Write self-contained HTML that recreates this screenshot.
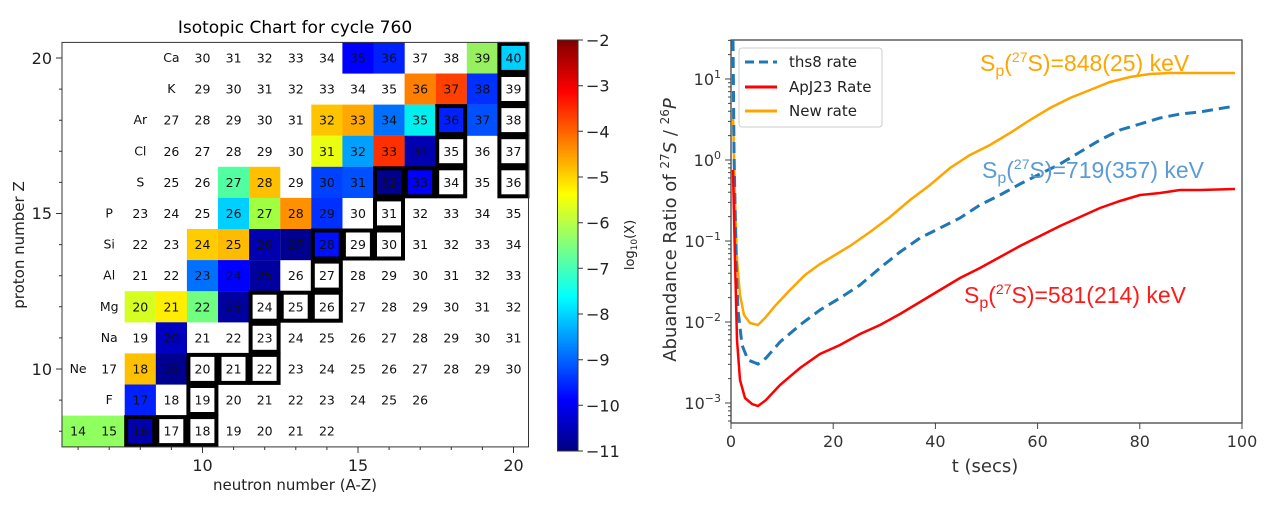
<!DOCTYPE html>
<html><head><meta charset="utf-8"><style>
html,body{margin:0;padding:0;background:#fff;}
svg{display:block;font-family:"DejaVu Sans","Liberation Sans",sans-serif;}
.c text{font-size:12.5px;text-anchor:middle;fill:#111;}
.ann{font-family:"Liberation Sans","Noto Sans CJK SC",sans-serif;font-size:23px;}
</style></head><body>
<svg width="1267" height="508" viewBox="0 0 1267 508" xmlns="http://www.w3.org/2000/svg">
<defs><linearGradient id="jet" x1="0" y1="0" x2="0" y2="1">
<stop offset="0" stop-color="#800000"/><stop offset="0.125" stop-color="#ff0000"/><stop offset="0.375" stop-color="#ffff00"/><stop offset="0.625" stop-color="#00ffff"/><stop offset="0.875" stop-color="#0000ff"/><stop offset="1" stop-color="#000080"/></linearGradient></defs>
<text x="295" y="33" font-size="17" text-anchor="middle">Isotopic Chart for cycle 760</text>
<g>
<rect x="342.4" y="42.4" width="31.2" height="31.2" fill="#0000ff"/><rect x="373.5" y="42.4" width="31.2" height="31.2" fill="#0020ff"/><rect x="466.8" y="42.4" width="31.2" height="31.2" fill="#96f060"/><rect x="497.9" y="42.4" width="31.2" height="31.2" fill="#00d0ff"/>
<rect x="404.6" y="73.5" width="31.2" height="31.2" fill="#ff8000"/><rect x="435.7" y="73.5" width="31.2" height="31.2" fill="#ff4000"/><rect x="466.8" y="73.5" width="31.2" height="31.2" fill="#0030ff"/>
<rect x="311.3" y="104.6" width="31.2" height="31.2" fill="#ffc400"/><rect x="342.4" y="104.6" width="31.2" height="31.2" fill="#ffa800"/><rect x="373.5" y="104.6" width="31.2" height="31.2" fill="#0070ff"/><rect x="404.6" y="104.6" width="31.2" height="31.2" fill="#00f0f0"/><rect x="435.7" y="104.6" width="31.2" height="31.2" fill="#0020ff"/><rect x="466.8" y="104.6" width="31.2" height="31.2" fill="#0050ff"/>
<rect x="311.3" y="135.7" width="31.2" height="31.2" fill="#eaff10"/><rect x="342.4" y="135.7" width="31.2" height="31.2" fill="#00a0ff"/><rect x="373.5" y="135.7" width="31.2" height="31.2" fill="#ff3000"/><rect x="404.6" y="135.7" width="31.2" height="31.2" fill="#0000b0"/>
<rect x="218.0" y="166.8" width="31.2" height="31.2" fill="#50ffa0"/><rect x="249.1" y="166.8" width="31.2" height="31.2" fill="#ffc000"/><rect x="311.3" y="166.8" width="31.2" height="31.2" fill="#0040ff"/><rect x="342.4" y="166.8" width="31.2" height="31.2" fill="#0050ff"/><rect x="373.5" y="166.8" width="31.2" height="31.2" fill="#000090"/><rect x="404.6" y="166.8" width="31.2" height="31.2" fill="#0000ff"/>
<rect x="218.0" y="197.9" width="31.2" height="31.2" fill="#00d0ff"/><rect x="249.1" y="197.9" width="31.2" height="31.2" fill="#a0ff40"/><rect x="280.2" y="197.9" width="31.2" height="31.2" fill="#ff9000"/><rect x="311.3" y="197.9" width="31.2" height="31.2" fill="#0030ff"/>
<rect x="186.9" y="229.0" width="31.2" height="31.2" fill="#ffcc00"/><rect x="218.0" y="229.0" width="31.2" height="31.2" fill="#ffbb00"/><rect x="249.1" y="229.0" width="31.2" height="31.2" fill="#0000b0"/><rect x="280.2" y="229.0" width="31.2" height="31.2" fill="#000090"/><rect x="311.3" y="229.0" width="31.2" height="31.2" fill="#0010ff"/>
<rect x="186.9" y="260.1" width="31.2" height="31.2" fill="#0070ff"/><rect x="218.0" y="260.1" width="31.2" height="31.2" fill="#0000ff"/><rect x="249.1" y="260.1" width="31.2" height="31.2" fill="#0000a0"/>
<rect x="124.7" y="291.2" width="31.2" height="31.2" fill="#d4ff20"/><rect x="155.8" y="291.2" width="31.2" height="31.2" fill="#ffee00"/><rect x="186.9" y="291.2" width="31.2" height="31.2" fill="#70ff80"/><rect x="218.0" y="291.2" width="31.2" height="31.2" fill="#0000a0"/>
<rect x="155.8" y="322.3" width="31.2" height="31.2" fill="#0000c0"/>
<rect x="124.7" y="353.4" width="31.2" height="31.2" fill="#ffc000"/><rect x="155.8" y="353.4" width="31.2" height="31.2" fill="#000090"/>
<rect x="124.7" y="384.5" width="31.2" height="31.2" fill="#0020ff"/>
<rect x="62.5" y="415.6" width="62.4" height="31.2" fill="#90ff60"/><rect x="124.7" y="415.6" width="31.2" height="31.2" fill="#0000b0"/>
</g>
<g fill="none" stroke="#000" stroke-width="4">
<rect x="499.4" y="43.9" width="28" height="28"/>
<rect x="499.4" y="75.0" width="28" height="28"/>
<rect x="437.2" y="106.1" width="28" height="28"/><rect x="499.4" y="106.1" width="28" height="28"/>
<rect x="437.2" y="137.2" width="28" height="28"/><rect x="499.4" y="137.2" width="28" height="28"/>
<rect x="375.0" y="168.3" width="28" height="28"/><rect x="406.1" y="168.3" width="28" height="28"/><rect x="437.2" y="168.3" width="28" height="28"/><rect x="499.4" y="168.3" width="28" height="28"/>
<rect x="375.0" y="199.4" width="28" height="28"/>
<rect x="312.8" y="230.5" width="28" height="28"/><rect x="343.9" y="230.5" width="28" height="28"/><rect x="375.0" y="230.5" width="28" height="28"/>
<rect x="312.8" y="261.6" width="28" height="28"/>
<rect x="250.6" y="292.7" width="28" height="28"/><rect x="281.7" y="292.7" width="28" height="28"/><rect x="312.8" y="292.7" width="28" height="28"/>
<rect x="250.6" y="323.8" width="28" height="28"/>
<rect x="188.4" y="354.9" width="28" height="28"/><rect x="219.5" y="354.9" width="28" height="28"/><rect x="250.6" y="354.9" width="28" height="28"/>
<rect x="188.4" y="386.0" width="28" height="28"/>
<rect x="126.2" y="417.1" width="28" height="28"/><rect x="157.3" y="417.1" width="28" height="28"/><rect x="188.4" y="417.1" width="28" height="28"/>
</g>
<g class="c">
<text x="171.4" y="62" font-size="10.5">Ca</text><text x="202.5" y="62.5">30</text><text x="233.6" y="62.5">31</text><text x="264.7" y="62.5">32</text><text x="295.8" y="62.5">33</text><text x="326.9" y="62.5">34</text><text x="358.0" y="62.5">35</text><text x="389.1" y="62.5">36</text><text x="420.2" y="62.5">37</text><text x="451.3" y="62.5">38</text><text x="482.4" y="62.5">39</text><text x="513.5" y="62.5">40</text>
<text x="171.4" y="93.1" font-size="10.5">K</text><text x="202.5" y="93.6">29</text><text x="233.6" y="93.6">30</text><text x="264.7" y="93.6">31</text><text x="295.8" y="93.6">32</text><text x="326.9" y="93.6">33</text><text x="358.0" y="93.6">34</text><text x="389.1" y="93.6">35</text><text x="420.2" y="93.6">36</text><text x="451.3" y="93.6">37</text><text x="482.4" y="93.6">38</text><text x="513.5" y="93.6">39</text>
<text x="140.3" y="124.2" font-size="10.5">Ar</text><text x="171.4" y="124.7">27</text><text x="202.5" y="124.7">28</text><text x="233.6" y="124.7">29</text><text x="264.7" y="124.7">30</text><text x="295.8" y="124.7">31</text><text x="326.9" y="124.7">32</text><text x="358.0" y="124.7">33</text><text x="389.1" y="124.7">34</text><text x="420.2" y="124.7">35</text><text x="451.3" y="124.7">36</text><text x="482.4" y="124.7">37</text><text x="513.5" y="124.7">38</text>
<text x="140.3" y="155.3" font-size="10.5">Cl</text><text x="171.4" y="155.8">26</text><text x="202.5" y="155.8">27</text><text x="233.6" y="155.8">28</text><text x="264.7" y="155.8">29</text><text x="295.8" y="155.8">30</text><text x="326.9" y="155.8">31</text><text x="358.0" y="155.8">32</text><text x="389.1" y="155.8">33</text><text x="420.2" y="155.8">34</text><text x="451.3" y="155.8">35</text><text x="482.4" y="155.8">36</text><text x="513.5" y="155.8">37</text>
<text x="140.3" y="186.4" font-size="10.5">S</text><text x="171.4" y="186.9">25</text><text x="202.5" y="186.9">26</text><text x="233.6" y="186.9">27</text><text x="264.7" y="186.9">28</text><text x="295.8" y="186.9">29</text><text x="326.9" y="186.9">30</text><text x="358.0" y="186.9">31</text><text x="389.1" y="186.9">32</text><text x="420.2" y="186.9">33</text><text x="451.3" y="186.9">34</text><text x="482.4" y="186.9">35</text><text x="513.5" y="186.9">36</text>
<text x="109.2" y="217.5" font-size="10.5">P</text><text x="140.3" y="218">23</text><text x="171.4" y="218">24</text><text x="202.5" y="218">25</text><text x="233.6" y="218">26</text><text x="264.7" y="218">27</text><text x="295.8" y="218">28</text><text x="326.9" y="218">29</text><text x="358.0" y="218">30</text><text x="389.1" y="218">31</text><text x="420.2" y="218">32</text><text x="451.3" y="218">33</text><text x="482.4" y="218">34</text><text x="513.5" y="218">35</text>
<text x="109.2" y="248.6" font-size="10.5">Si</text><text x="140.3" y="249.1">22</text><text x="171.4" y="249.1">23</text><text x="202.5" y="249.1">24</text><text x="233.6" y="249.1">25</text><text x="264.7" y="249.1">26</text><text x="295.8" y="249.1">27</text><text x="326.9" y="249.1">28</text><text x="358.0" y="249.1">29</text><text x="389.1" y="249.1">30</text><text x="420.2" y="249.1">31</text><text x="451.3" y="249.1">32</text><text x="482.4" y="249.1">33</text><text x="513.5" y="249.1">34</text>
<text x="109.2" y="279.7" font-size="10.5">Al</text><text x="140.3" y="280.2">21</text><text x="171.4" y="280.2">22</text><text x="202.5" y="280.2">23</text><text x="233.6" y="280.2">24</text><text x="264.7" y="280.2">25</text><text x="295.8" y="280.2">26</text><text x="326.9" y="280.2">27</text><text x="358.0" y="280.2">28</text><text x="389.1" y="280.2">29</text><text x="420.2" y="280.2">30</text><text x="451.3" y="280.2">31</text><text x="482.4" y="280.2">32</text><text x="513.5" y="280.2">33</text>
<text x="109.2" y="310.8" font-size="10.5">Mg</text><text x="140.3" y="311.3">20</text><text x="171.4" y="311.3">21</text><text x="202.5" y="311.3">22</text><text x="233.6" y="311.3">23</text><text x="264.7" y="311.3">24</text><text x="295.8" y="311.3">25</text><text x="326.9" y="311.3">26</text><text x="358.0" y="311.3">27</text><text x="389.1" y="311.3">28</text><text x="420.2" y="311.3">29</text><text x="451.3" y="311.3">30</text><text x="482.4" y="311.3">31</text><text x="513.5" y="311.3">32</text>
<text x="109.2" y="341.9" font-size="10.5">Na</text><text x="140.3" y="342.4">19</text><text x="171.4" y="342.4">20</text><text x="202.5" y="342.4">21</text><text x="233.6" y="342.4">22</text><text x="264.7" y="342.4">23</text><text x="295.8" y="342.4">24</text><text x="326.9" y="342.4">25</text><text x="358.0" y="342.4">26</text><text x="389.1" y="342.4">27</text><text x="420.2" y="342.4">28</text><text x="451.3" y="342.4">29</text><text x="482.4" y="342.4">30</text><text x="513.5" y="342.4">31</text>
<text x="78.1" y="373" font-size="10.5">Ne</text><text x="109.2" y="373.5">17</text><text x="140.3" y="373.5">18</text><text x="171.4" y="373.5">19</text><text x="202.5" y="373.5">20</text><text x="233.6" y="373.5">21</text><text x="264.7" y="373.5">22</text><text x="295.8" y="373.5">23</text><text x="326.9" y="373.5">24</text><text x="358.0" y="373.5">25</text><text x="389.1" y="373.5">26</text><text x="420.2" y="373.5">27</text><text x="451.3" y="373.5">28</text><text x="482.4" y="373.5">29</text><text x="513.5" y="373.5">30</text>
<text x="109.2" y="404.1" font-size="10.5">F</text><text x="140.3" y="404.6">17</text><text x="171.4" y="404.6">18</text><text x="202.5" y="404.6">19</text><text x="233.6" y="404.6">20</text><text x="264.7" y="404.6">21</text><text x="295.8" y="404.6">22</text><text x="326.9" y="404.6">23</text><text x="358.0" y="404.6">24</text><text x="389.1" y="404.6">25</text><text x="420.2" y="404.6">26</text>
<text x="78.1" y="435.7">14</text><text x="109.2" y="435.7">15</text><text x="140.3" y="435.7">16</text><text x="171.4" y="435.7">17</text><text x="202.5" y="435.7">18</text><text x="233.6" y="435.7">19</text><text x="264.7" y="435.7">20</text><text x="295.8" y="435.7">21</text><text x="326.9" y="435.7">22</text>
</g>
<rect x="62" y="42.4" width="466.5" height="404.5" fill="none" stroke="#333" stroke-width="1"/>
<g stroke="#333" stroke-width="1">
<path d="M62 58h-6M62 213.5h-6M62 369h-6M62 89.1h-3M62 120.2h-3M62 151.3h-3M62 182.4h-3M62 244.6h-3M62 275.7h-3M62 306.8h-3M62 337.9h-3M62 400.1h-3M62 431.2h-3"/>
<path d="M202.5 447v6M358 447v6M513.5 447v6M78.1 447v3M109.2 447v3M140.3 447v3M171.4 447v3M233.6 447v3M264.7 447v3M295.8 447v3M326.9 447v3M389.1 447v3M420.2 447v3M451.3 447v3M482.4 447v3"/>
</g>
<g font-size="16" fill="#222">
<text x="52" y="64" text-anchor="end">20</text><text x="52" y="219" text-anchor="end">15</text><text x="52" y="375" text-anchor="end">10</text>
<text x="202.5" y="471" text-anchor="middle">10</text><text x="358" y="471" text-anchor="middle">15</text><text x="513.5" y="471" text-anchor="middle">20</text>
</g>
<text x="295" y="490" font-size="15" text-anchor="middle" fill="#222">neutron number (A-Z)</text>
<text transform="translate(24,245) rotate(-90)" font-size="15" text-anchor="middle" fill="#222">proton number Z</text>
<rect x="557.5" y="40" width="20.5" height="411" fill="url(#jet)" stroke="#333" stroke-width="1"/>
<g stroke="#333"><path d="M578 40h5M578 85.7h5M578 131.3h5M578 177h5M578 222.7h5M578 268.3h5M578 314h5M578 359.7h5M578 405.3h5M578 451h5"/></g>
<g font-size="16" fill="#222">
<text x="586" y="46">−2</text><text x="586" y="91.7">−3</text><text x="586" y="137.3">−4</text><text x="586" y="183">−5</text><text x="586" y="228.7">−6</text><text x="586" y="274.3">−7</text><text x="586" y="320">−8</text><text x="586" y="365.7">−9</text><text x="586" y="411.3">−10</text><text x="586" y="457">−11</text>
</g>
<text transform="translate(634,245) rotate(-90)" font-size="13" text-anchor="middle" fill="#222">log<tspan font-size="9" dy="3">10</tspan><tspan dy="-3">(X)</tspan></text>

<rect x="731" y="40" width="511" height="383" fill="none" stroke="#444" stroke-width="1.3"/>
<g stroke="#444" stroke-width="1">
<path d="M731 403h-6M731 322h-6M731 241h-6M731 160h-6M731 79h-6"/>
<path d="M731 421h-3M731 415.6h-3M731 410.9h-3M731 406.7h-3M731 378.6h-3M731 364.4h-3M731 354.2h-3M731 346.4h-3M731 340h-3M731 334.6h-3M731 329.9h-3M731 325.7h-3M731 297.6h-3M731 283.4h-3M731 273.2h-3M731 265.4h-3M731 259h-3M731 253.6h-3M731 248.9h-3M731 244.7h-3M731 216.6h-3M731 202.4h-3M731 192.2h-3M731 184.4h-3M731 178h-3M731 172.6h-3M731 167.9h-3M731 163.7h-3M731 135.6h-3M731 121.4h-3M731 111.2h-3M731 103.4h-3M731 97h-3M731 91.6h-3M731 86.9h-3M731 82.7h-3M731 54.6h-3M731 40.4h-3"/>
<path d="M731 423v6M833.2 423v6M935.4 423v6M1037.6 423v6M1139.8 423v6M1242 423v6"/>
</g>
<g font-size="16" fill="#333" text-anchor="middle">
<text x="731" y="447">0</text><text x="833.2" y="447">20</text><text x="935.4" y="447">40</text><text x="1037.6" y="447">60</text><text x="1139.8" y="447">80</text><text x="1242" y="447">100</text>
</g>
<g font-size="16" fill="#333" text-anchor="end">
<text x="721" y="409">10<tspan font-size="11" dy="-7">−3</tspan></text>
<text x="721" y="328">10<tspan font-size="11" dy="-7">−2</tspan></text>
<text x="721" y="247">10<tspan font-size="11" dy="-7">−1</tspan></text>
<text x="721" y="166">10<tspan font-size="11" dy="-7">0</tspan></text>
<text x="721" y="85">10<tspan font-size="11" dy="-7">1</tspan></text>
</g>
<text x="985" y="472" font-size="18" text-anchor="middle" fill="#333">t (secs)</text>
<text transform="translate(676,230) rotate(-90)" font-size="18" text-anchor="middle" fill="#333">Abuandance Ratio of <tspan font-size="12" dy="-7">27</tspan><tspan dy="7" font-style="italic">S</tspan> / <tspan font-size="12" dy="-7">26</tspan><tspan dy="7" font-style="italic">P</tspan></text>
<polyline fill="none" stroke="#ffa500" stroke-width="2.5" points="733,110 735,200 737,260 740,295 744,315 750,323 758,325 765,318 775,306 790,290 805,275 820,264 835,255 850,246 870,232 890,217 910,200 930,185 950,168 970,155 990,145 1010,133 1030,120 1050,108 1070,98 1090,90 1110,82 1130,77 1150,74 1170,73 1200,73 1235,73"/>
<polyline fill="none" stroke="#1f77b4" stroke-width="3" stroke-dasharray="11,6" points="733,40 734,150 736,260 738,310 742,345 748,360 758,364 766,358 780,342 800,325 820,310 840,298 860,285 880,268 900,252 920,238 940,228 960,218 980,205 1000,195 1020,184 1040,174 1060,164 1080,152 1100,140 1120,130 1140,124 1160,118 1180,114 1200,112 1235,106"/>
<polyline fill="none" stroke="#ff0000" stroke-width="2.5" points="733,170 735,260 737,340 740,380 745,398 752,404 758,406 766,400 780,385 800,368 820,354 840,345 860,334 880,325 900,314 920,302 940,290 960,278 980,268 1000,257 1020,246 1040,236 1060,226 1080,217 1100,208 1120,201 1140,195 1160,193 1180,190 1200,190 1235,189"/>
<rect x="739" y="48" width="143" height="79" rx="3" fill="#fff" fill-opacity="0.85" stroke="#ccc"/>
<line x1="745" y1="62" x2="777" y2="62" stroke="#1f77b4" stroke-width="3" stroke-dasharray="9,5"/>
<line x1="745" y1="87" x2="777" y2="87" stroke="#ff0000" stroke-width="3"/>
<line x1="745" y1="111" x2="777" y2="111" stroke="#ffa500" stroke-width="3"/>
<g font-size="15" fill="#222"><text x="789" y="67">ths8 rate</text><text x="789" y="92">ApJ23 Rate</text><text x="789" y="116">New rate</text></g>
<text class="ann" x="980" y="71" fill="#ffa500">S<tspan font-size="16" dy="5">p</tspan><tspan dy="-5">(</tspan><tspan font-size="14" dy="-9">27</tspan><tspan dy="9">S)=848(25) keV</tspan></text>
<text class="ann" x="982" y="178" fill="#5b9bd5">S<tspan font-size="16" dy="5">p</tspan><tspan dy="-5">(</tspan><tspan font-size="14" dy="-9">27</tspan><tspan dy="9">S)=719(357) keV</tspan></text>
<text class="ann" x="964" y="303" fill="#ff1a1a">S<tspan font-size="16" dy="5">p</tspan><tspan dy="-5">(</tspan><tspan font-size="14" dy="-9">27</tspan><tspan dy="9">S)=581(214) keV</tspan></text>
</svg>
</body></html>
